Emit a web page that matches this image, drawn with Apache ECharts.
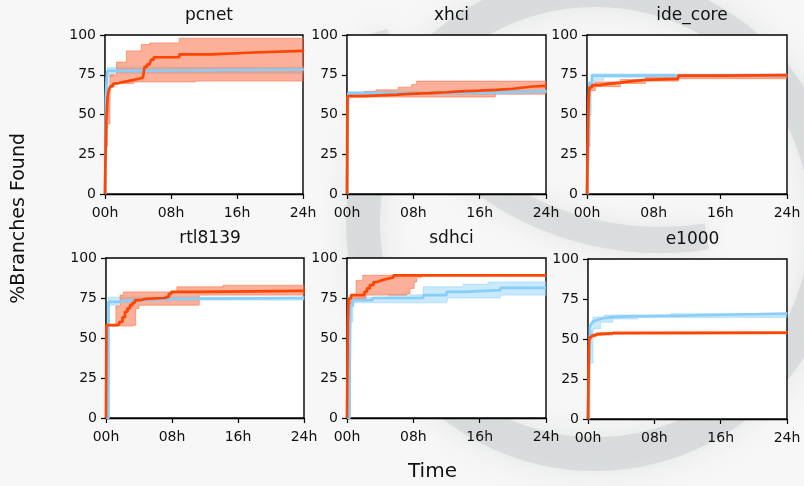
<!DOCTYPE html>
<html>
<head>
<meta charset="utf-8">
<script src="https://cdn.jsdelivr.net/npm/echarts@6/dist/echarts.min.js"></script>
<style>
html,body{margin:0;padding:0;background:#f7f7f7;}
#c{width:804px;height:486px;}
</style>
</head>
<body>
<div id="c"></div>
<script>
// ---------- data (hours, % branches found) ----------
var panelNames = ['pcnet', 'xhci', 'ide_core', 'rtl8139', 'sdhci', 'e1000'];
var xTickLabels = ['00h', '08h', '16h', '24h'];
var yTicks = [0, 25, 50, 75, 100];

var pcnetRed   = [[0,0],[0.05,20],[0.1,35],[0.15,44],[0.22,52],[0.3,60],[0.4,64],[0.5,66],[0.7,68],[1.0,69.5],[1.5,70.3],[2,71],[2.8,71.8],[3.5,72.5],[4.1,73.2],[4.6,73.7],[4.8,80],[5.1,81.5],[5.4,82.5],[5.6,84.5],[5.9,86],[9,87.8],[13,89],[18,90],[24,90.5]];
var pcnetRedHi = [[0,0],[0.05,50],[0.2,60],[0.6,75],[1.4,83],[2.6,90],[4.4,94],[5.4,95],[9,98],[24,98.5]];
var pcnetRedLo = [[0,0],[0.05,30],[0.3,44],[0.6,67],[1.0,69.5],[3.5,70.5],[11,71],[24,71.5]];
var pcnetBlue   = [[0,0],[0.1,60],[0.2,72],[0.3,77.5],[5,78.3],[24,79]];
var pcnetBlueHi = [[0,0],[0.1,70],[0.3,79.5],[24,80.5]];
var pcnetBlueLo = [[0,0],[0.2,50],[0.4,74],[1,76],[24,77.5]];

var xhciRed   = [[0,0],[0.05,61.5],[2,62],[4,62.5],[6,63],[7.6,63.5],[10,64],[12,64.5],[13.6,65],[16,65.5],[18,66.2],[20,67],[21.3,67.6],[22.5,68],[24,68.3]];
var xhciRedHi = [[0,0],[0.05,62.5],[2.1,64.5],[3.5,65.5],[6.2,67.2],[7.8,68.9],[8.4,71],[24,71]];
var xhciRedLo = [[0,0],[0.05,61],[17.8,61.2],[17.9,62.8],[24,62.8]];
var xhciBlue   = [[0,0],[0.15,63.5],[10,63.8],[18,64.5],[24,65]];
var xhciBlueHi = [[0,0],[0.15,64.3],[18,65.3],[24,65.8]];
var xhciBlueLo = [[0,0],[0.15,62.7],[18,63.7],[24,64.2]];

var ideRed   = [[0,0],[0.1,40],[0.2,60],[0.3,67],[0.6,68.5],[1.5,69.3],[2.5,70],[4,71],[5.5,71.8],[7,72.4],[10.9,73],[11,74.5],[16,74.8],[24,75.2]];
var ideRedHi = [[0,0],[0.1,50],[0.3,69],[1,70.5],[4,72],[7,73.2],[11,75],[24,75.5]];
var ideRedLo = [[0,0],[0.1,30],[0.3,65],[1,67.5],[4,69.5],[7,71],[11,72.5],[24,73]];
var ideBlue   = [[0,0],[0.2,40],[0.3,70],[0.6,74.5],[3,74.8],[24,75]];
var ideBlueHi = [[0,0],[0.2,50],[0.5,75.5],[24,75.5]];
var ideBlueLo = [[0,0],[0.2,30],[0.4,68],[1,71.5],[2,73.5],[24,74]];

var rtlRed   = [[0,0],[0.05,58],[1.3,58.5],[1.6,60],[2,63],[2.3,66.4],[2.6,68.5],[2.9,70.5],[3.2,72],[3.5,73.7],[4.2,74.5],[4.9,75],[7.1,75.7],[7.6,77.5],[7.9,78.8],[11.4,79.5],[24,80]];
var rtlRedHi = [[0,0],[0.05,58.5],[1.2,70],[1.7,76.8],[2.1,78.8],[8.6,82],[14.2,83],[24,83]];
var rtlRedLo = [[0,0],[0.05,57.5],[3.3,58],[3.6,68.5],[4,70.5],[11.2,70.5],[11.3,76.8],[24,77]];
var rtlBlue   = [[0,0],[0.3,72.6],[1.5,73.5],[3,74.5],[8,75],[24,75.3]];
var rtlBlueHi = [[0,0],[0.3,75.5],[24,76.2]];
var rtlBlueLo = [[0,0],[0.3,70.5],[1.5,72.5],[4,73.7],[24,74.3]];

var sdRed   = [[0,0],[0.1,60],[0.2,74.7],[0.5,76.8],[1.5,76.8],[2.1,78.8],[2.4,81],[2.75,83],[3.2,85],[3.6,86],[4.2,87],[4.8,87.8],[5.6,89.2],[24,89.2]];
var sdRedHi = [[0,0],[0.1,70],[0.4,76.8],[1.1,86],[1.9,89.2],[24,89.5]];
var sdRedLo = [[0,0],[0.1,50],[0.4,71.6],[0.7,74.7],[2.3,76.8],[7.2,77.8],[7.6,81],[8.1,85],[8.4,88],[9,89],[24,89]];
var sdBlue   = [[0,0],[0.3,20],[0.4,70],[0.7,73.6],[3.1,75],[9.2,76.8],[12,78.8],[14,79.9],[18.5,81.3],[24,81.7]];
var sdBlueHi = [[0,0],[0.4,74],[1,75.5],[5,77],[9.2,82],[14,83.6],[17,85],[24,85.2]];
var sdBlueLo = [[0,0],[0.4,60],[0.7,72],[12,73],[12.1,75],[18.5,76.8],[24,76.5]];

var eRed   = [[0,0],[0.1,45],[0.15,50.5],[0.25,51.5],[0.4,52.2],[0.7,52.8],[1,53.2],[2,53.6],[3,53.9],[24,54.3]];
var eRedHi = [[0,0],[0.1,47],[0.15,51.5],[0.4,53],[1,54],[3,54.6],[24,55]];
var eRedLo = [[0,0],[0.1,42],[0.15,49.5],[0.4,51.4],[1,52.5],[3,53.2],[24,53.6]];
var eBlue   = [[0,0],[0.2,40],[0.25,57.8],[0.4,59.5],[0.6,61],[0.8,62],[1.2,63],[1.8,63.7],[3,64.2],[5,64.7],[12,65.3],[18,65.8],[24,66.2]];
var eBlueHi = [[0,0],[0.2,55],[0.6,63.7],[2,65],[10,65.8],[24,66.8]];
var eBlueLo = [[0,0],[0.2,35],[0.6,56.4],[1.5,60.5],[3,62.5],[6,63.5],[24,65.5]];

// ---------- assembly ----------
var panels = [
  {red: pcnetRed, redHi: pcnetRedHi, redLo: pcnetRedLo, blue: pcnetBlue, blueHi: pcnetBlueHi, blueLo: pcnetBlueLo},
  {red: xhciRed, redHi: xhciRedHi, redLo: xhciRedLo, blue: xhciBlue, blueHi: xhciBlueHi, blueLo: xhciBlueLo},
  {red: ideRed, redHi: ideRedHi, redLo: ideRedLo, blue: ideBlue, blueHi: ideBlueHi, blueLo: ideBlueLo},
  {red: rtlRed, redHi: rtlRedHi, redLo: rtlRedLo, blue: rtlBlue, blueHi: rtlBlueHi, blueLo: rtlBlueLo},
  {red: sdRed, redHi: sdRedHi, redLo: sdRedLo, blue: sdBlue, blueHi: sdBlueHi, blueLo: sdBlueLo},
  {red: eRed, redHi: eRedHi, redLo: eRedLo, blue: eBlue, blueHi: eBlueHi, blueLo: eBlueLo}
];

var layout = [
  {left: 105, top: 35, width: 198, height: 159},
  {left: 347, top: 35, width: 199, height: 159},
  {left: 587, top: 35, width: 200, height: 159},
  {left: 106, top: 258, width: 198, height: 160},
  {left: 347, top: 258, width: 199, height: 160},
  {left: 588, top: 259, width: 199, height: 160}
];

var FONT = 'DejaVu Sans';
var RED = '#FF4500', BLUE = '#87CEFA';
var RED_FILL = 'rgba(250,110,70,0.55)', RED_EDGE = 'rgba(250,110,70,0.7)';
var BLUE_FILL = 'rgba(135,206,250,0.45)', BLUE_EDGE = 'rgba(135,206,250,0.6)';

function bandSeries(gi, hi, lo, fill, edge, z) {
  return {
    type: 'custom', xAxisIndex: gi, yAxisIndex: gi, data: [[0, 0]], silent: true, z: z,
    renderItem: function (params, api) {
      var pts = [], i, nx;
      for (i = 0; i < hi.length; i++) {
        nx = i + 1 < hi.length ? hi[i + 1][0] : hi[i][0];
        pts.push(api.coord([hi[i][0], hi[i][1]]));
        pts.push(api.coord([nx, hi[i][1]]));
      }
      for (i = lo.length - 1; i >= 0; i--) {
        nx = i + 1 < lo.length ? lo[i + 1][0] : lo[i][0];
        pts.push(api.coord([nx, lo[i][1]]));
        pts.push(api.coord([lo[i][0], lo[i][1]]));
      }
      return {type: 'polygon', shape: {points: pts}, style: {fill: fill, stroke: edge, lineWidth: 0.8}};
    }
  };
}
function lineSeries(gi, data, color, z) {
  return {
    type: 'line', xAxisIndex: gi, yAxisIndex: gi, data: data, step: 'end',
    symbol: 'none', showSymbol: false, silent: true, z: z,
    lineStyle: {color: color, width: 2.7}
  };
}

var grids = [], xAxes = [], yAxes = [], series = [], titles = [];
panels.forEach(function (p, i) {
  var L = layout[i];
  grids.push({left: L.left, top: L.top, width: L.width, height: L.height, show: true,
    backgroundColor: '#ffffff', borderColor: '#000', borderWidth: 1.4, z: 1});
  xAxes.push({
    type: 'value', gridIndex: i, min: 0, max: 24, interval: 8,
    axisLine: {show: true, lineStyle: {color: '#000', width: 1.4}},
    axisTick: {show: true, length: 5, lineStyle: {color: '#000', width: 1.2}},
    splitLine: {show: false},
    axisLabel: {color: '#111', fontFamily: FONT, fontSize: 14, margin: 12,
      formatter: function (v) { return xTickLabels[Math.round(v / 8)]; }}
  });
  yAxes.push({
    type: 'value', gridIndex: i, min: yTicks[0], max: yTicks[yTicks.length - 1], interval: 25,
    axisLine: {show: true, lineStyle: {color: '#000', width: 1.4}},
    axisTick: {show: true, length: 5, lineStyle: {color: '#000', width: 1.2}},
    splitLine: {show: false},
    axisLabel: {color: '#111', fontFamily: FONT, fontSize: 14, margin: 9}
  });
  series.push(bandSeries(i, p.blueHi, p.blueLo, BLUE_FILL, BLUE_EDGE, 2));
  series.push(bandSeries(i, p.redHi, p.redLo, RED_FILL, RED_EDGE, 3));
  series.push(lineSeries(i, p.blue, BLUE, 4));
  series.push(lineSeries(i, p.red, RED, 5));
  titles.push({text: panelNames[i], left: L.left + L.width / 2, top: L.top - 33, textAlign: 'center',
    textStyle: {fontFamily: FONT, fontSize: 17, fontWeight: 'normal', color: '#111'}});
});

var chart = echarts.init(document.getElementById('c'), null, {renderer: 'canvas'});
chart.setOption({
  backgroundColor: '#f7f7f7',
  animation: false,
  title: titles,
  grid: grids,
  xAxis: xAxes,
  yAxis: yAxes,
  series: series,
  graphic: [
    {type: 'circle', z: -10, silent: true, shape: {cx: 595, cy: 222, r: 232},
      style: {fill: null, stroke: 'rgba(205,208,210,0.6)', lineWidth: 34, shadowBlur: 30, shadowColor: 'rgba(205,208,210,0.8)'}},
    {type: 'arc', z: -10, silent: true, shape: {cx: 660, cy: -60, r: 300, startAngle: Math.PI * 0.45, endAngle: Math.PI * 0.9, clockwise: true},
      style: {fill: null, stroke: 'rgba(205,208,210,0.55)', lineWidth: 26, shadowBlur: 25, shadowColor: 'rgba(205,208,210,0.8)'}},
    {type: 'text', z: 10, silent: true, left: 10, top: 133,
      style: {text: '%Branches Found', font: '19px "DejaVu Sans"', fill: '#111'}, rotation: Math.PI / 2, originX: 0, originY: 0},
    {type: 'text', z: 10, silent: true, left: 408, top: 462,
      style: {text: 'Time', font: '20px "DejaVu Sans"', fill: '#111'}}
  ]
});
</script>
</body>
</html>
